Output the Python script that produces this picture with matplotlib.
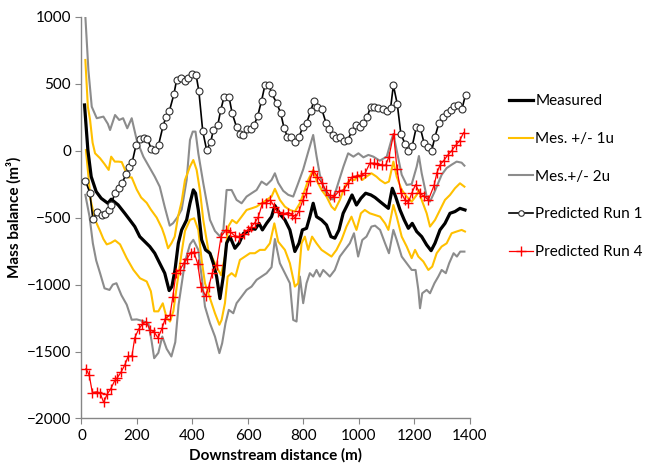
import matplotlib
matplotlib.use("Agg")
import matplotlib.pyplot as plt
from matplotlib.lines import Line2D

plt.rcParams['font.family'] = ['Lato', 'DejaVu Sans']

# ---- data ----
meas_x = [11, 23, 35, 53, 71, 95, 107, 132, 156, 174, 192, 210, 228, 246, 264, 282, 300, 316, 326, 337,
          349, 361, 379, 391, 403, 411, 421, 433, 447, 463, 475, 487, 499, 511, 523, 535, 553, 568, 584, 599,
          614, 626, 640, 652, 667, 685, 697, 715, 733, 751, 769, 784, 796, 811, 823, 835, 847, 865, 883, 899,
          913, 928, 943, 961, 975, 991, 1007, 1024, 1043, 1058, 1076, 1091, 1106, 1120, 1132, 1148, 1163, 1178,
          1192, 1208, 1226, 1244, 1260, 1274, 1292, 1310, 1328, 1346, 1364, 1382]
meas_y = [341, 5, -194, -306, -356, -393, -363, -405, -468, -517, -567, -642, -679, -716, -766, -841, -915,
          -1045, -1015, -891, -691, -592, -517, -393, -293, -318, -443, -666, -741, -766, -841, -940, -1105,
          -940, -691, -642, -729, -691, -617, -604, -580, -587, -543, -592, -543, -493, -410, -473, -517, -592,
          -753, -691, -592, -580, -493, -393, -493, -517, -555, -642, -654, -592, -468, -393, -331, -406, -356,
          -318, -331, -350, -381, -406, -431, -281, -343, -443, -517, -580, -543, -604, -642, -704, -747, -691,
          -592, -543, -468, -455, -431, -443]

up1_x = [14, 23, 31, 40, 49, 67, 83, 98, 107, 120, 133, 145, 157, 168, 181, 199, 215, 235, 250, 271, 290,
         300, 312, 324, 336, 348, 361, 373, 391, 403, 415, 427, 439, 457, 475, 493, 503, 517, 529, 543, 559,
         577, 595, 613, 631, 649, 667, 685, 697, 715, 733, 751, 769, 787, 805, 817, 835, 847, 865, 883, 901,
         913, 931, 949, 967, 985, 997, 1012, 1027, 1045, 1063, 1076, 1094, 1108, 1124, 1136, 1154, 1172, 1190,
         1208, 1216, 1226, 1244, 1256, 1274, 1292, 1310, 1328, 1346, 1364, 1380]
up1_y = [677, 328, 229, 60, -20, -57, -100, -144, -45, -82, -82, -85, -144, -200, -200, -290, -350, -390,
         -440, -500, -580, -640, -729, -692, -642, -493, -380, -219, -119, -70, -144, -300, -520, -741, -816,
         -891, -930, -791, -567, -518, -542, -493, -443, -431, -418, -393, -368, -343, -285, -368, -418, -443,
         -455, -393, -293, -219, -144, -219, -293, -343, -418, -443, -368, -269, -219, -219, -182, -219, -194,
         -169, -194, -219, -244, -231, -82, -194, -293, -343, -381, -331, -293, -368, -468, -567, -518, -443,
         -368, -331, -281, -244, -269]

lo1_x = [16, 24, 33, 49, 67, 79, 91, 105, 121, 139, 163, 187, 211, 235, 250, 262, 277, 293, 307, 319, 331,
         345, 361, 373, 391, 406, 421, 433, 445, 457, 469, 481, 497, 505, 517, 527, 541, 555, 571, 589, 607,
         625, 643, 661, 679, 695, 709, 733, 751, 769, 781, 793, 805, 817, 831, 847, 865, 883, 901, 919, 937,
         955, 973, 991, 1007, 1021, 1039, 1057, 1076, 1094, 1106, 1118, 1124, 1136, 1154, 1172, 1190, 1202,
         1214, 1232, 1250, 1264, 1280, 1298, 1316, 1334, 1352, 1370, 1382]
lo1_y = [5, -169, -368, -517, -600, -660, -700, -690, -670, -700, -803, -890, -953, -977, -1050, -1200,
         -1200, -1140, -1250, -1276, -1200, -990, -760, -600, -517, -505, -592, -816, -990, -1065, -1139,
         -1214, -1300, -1264, -1139, -940, -915, -940, -816, -791, -766, -766, -741, -741, -692, -543, -680,
         -741, -841, -1015, -990, -692, -642, -741, -642, -692, -741, -766, -791, -741, -667, -567, -493, -592,
         -468, -443, -468, -480, -493, -543, -592, -468, -406, -493, -642, -716, -803, -741, -791, -828, -891,
         -866, -766, -716, -692, -617, -604, -592, -604]

up2_x = [14, 25, 37, 55, 79, 95, 103, 121, 136, 150, 165, 181, 199, 223, 264, 282, 300, 318, 330, 345, 361,
         379, 391, 401, 411, 421, 439, 463, 481, 499, 511, 523, 541, 559, 577, 595, 613, 631, 649, 667, 685,
         697, 709, 727, 745, 763, 781, 799, 817, 835, 847, 859, 877, 895, 907, 925, 944, 961, 980, 998, 1016,
         1034, 1052, 1075, 1100, 1117, 1124, 1138, 1154, 1172, 1190, 1208, 1216, 1226, 1244, 1256, 1274, 1298,
         1316, 1334, 1352, 1370, 1380]
up2_y = [1000, 600, 328, 242, 254, 200, 154, 266, 229, 242, 167, 242, 80, -45, -194, -269, -420, -560, -542,
         -500, -440, -219, 80, 142, 142, -20, -244, -517, -600, -640, -600, -294, -294, -368, -393, -343, -318,
         -294, -231, -256, -219, -169, -240, -300, -330, -343, -243, -140, -10, 117, -40, -180, -300, -356,
         -365, -244, -119, -20, -45, -20, -50, -32, -45, -75, -45, 80, 125, -20, -180, -256, -250, -120, -40,
         -169, -343, -380, -300, -180, -130, -105, -82, -90, -112]

lo2_x = [14, 29, 41, 53, 67, 83, 101, 113, 126, 144, 163, 181, 199, 217, 241, 252, 262, 277, 291, 307, 324,
         338, 350, 373, 391, 403, 421, 433, 445, 463, 481, 497, 507, 519, 531, 547, 559, 577, 595, 613, 631,
         649, 667, 685, 697, 715, 733, 751, 763, 775, 787, 799, 811, 823, 835, 847, 859, 871, 883, 895, 913,
         931, 949, 967, 982, 997, 1012, 1027, 1045, 1058, 1076, 1094, 1108, 1124, 1136, 1154, 1172, 1190,
         1204, 1214, 1220, 1228, 1244, 1256, 1272, 1286, 1298, 1313, 1325, 1341, 1353, 1365, 1380]
lo2_y = [-330, -493, -692, -820, -915, -1028, -1040, -1000, -990, -1080, -1150, -1263, -1260, -1270, -1288,
         -1413, -1550, -1510, -1388, -1480, -1537, -1430, -1150, -830, -700, -666, -741, -940, -1164, -1289,
         -1388, -1512, -1438, -1289, -1189, -1214, -1139, -1090, -1040, -1015, -965, -940, -915, -870, -660,
         -841, -915, -990, -1264, -1276, -940, -1139, -990, -915, -940, -891, -940, -891, -915, -940, -891,
         -791, -741, -692, -617, -791, -667, -642, -567, -560, -592, -692, -766, -592, -667, -791, -841, -891,
         -891, -1040, -1177, -1065, -1040, -1065, -990, -940, -891, -915, -841, -766, -791, -754, -754]

run1_x = [14, 30, 41, 57, 74, 83, 98, 107, 120, 134, 147, 161, 171, 183, 197, 210, 224, 237, 251, 266, 278,
          294, 305, 317, 333, 343, 357, 373, 385, 398, 413, 423, 437, 451, 466, 475, 491, 502, 514, 532, 543,
          559, 571, 583, 597, 611, 622, 635, 649, 661, 676, 685, 703, 718, 730, 742, 755, 769, 784, 797, 811,
          826, 838, 850, 866, 881, 893, 905, 917, 932, 946, 960, 975, 989, 1004, 1016, 1030, 1042, 1055, 1070,
          1085, 1100, 1114, 1124, 1138, 1151, 1166, 1178, 1192, 1207, 1221, 1235, 1247, 1262, 1274, 1288,
          1302, 1316, 1330, 1343, 1358, 1371, 1384]
run1_y = [-224, -313, -512, -457, -477, -472, -443, -403, -318, -278, -239, -174, -124, -84, 45, 85, 95, 90,
          15, 5, 45, 184, 254, 298, 420, 530, 540, 520, 540, 575, 565, 445, 145, 5, 65, 154, 190, 304, 403,
          398, 279, 175, 125, 119, 160, 160, 190, 259, 373, 488, 488, 428, 358, 279, 169, 104, 100, 65, 100,
          175, 205, 294, 373, 324, 309, 209, 164, 119, 95, 104, 70, 80, 149, 190, 175, 209, 254, 328, 328,
          319, 309, 294, 319, 488, 348, 125, 50, -5, 35, 179, 169, 55, 30, 0, 104, 204, 249, 279, 304, 333,
          339, 309, 418]

run4_x = [16, 28, 39, 55, 67, 80, 93, 105, 120, 129, 143, 156, 168, 182, 192, 206, 219, 233, 247, 261, 276,
          290, 302, 319, 329, 341, 355, 369, 379, 393, 405, 419, 431, 447, 459, 471, 487, 503, 521, 536, 553,
          569, 584, 599, 611, 625, 637, 652, 666, 680, 695, 707, 727, 745, 757, 769, 784, 798, 810, 822, 836,
          850, 866, 880, 894, 911, 928, 945, 961, 976, 993, 1007, 1022, 1039, 1053, 1065, 1084, 1096, 1108,
          1125, 1137, 1151, 1166, 1178, 1190, 1204, 1219, 1233, 1250, 1271, 1281, 1293, 1305, 1320, 1334,
          1349, 1363, 1377]
run4_y = [-1629, -1676, -1806, -1801, -1810, -1880, -1816, -1781, -1716, -1696, -1652, -1601, -1537, -1532,
          -1398, -1333, -1298, -1278, -1338, -1353, -1398, -1328, -1254, -1228, -1094, -910, -890, -840, -810,
          -766, -756, -846, -1019, -1084, -1015, -915, -855, -642, -592, -607, -637, -642, -622, -592, -572,
          -537, -497, -393, -388, -368, -418, -457, -472, -462, -477, -502, -452, -368, -318, -224, -149, -194,
          -243, -293, -333, -343, -303, -293, -243, -194, -189, -184, -169, -94, -94, -99, -109, -109, -45,
          125, -139, -313, -368, -388, -318, -254, -318, -338, -368, -258, -164, -104, -75, -34, 0, 40, 75, 134]

x_ticks = [0, 200, 400, 600, 800, 1000, 1200, 1400]
y_ticks = [-2000, -1500, -1000, -500, 0, 500, 1000]

labels = ["Measured", "Mes. +/- 1u", "Mes.+/- 2u", "Predicted Run 1", "Predicted Run 4"]

C_GRAY = "#8c8c8c"
C_ORANGE = "#ffc000"
C_BLACK = "#000000"
C_RED = "#ff0000"

fig = plt.figure(figsize=(6.55, 4.68), dpi=100)
ax = fig.add_axes([0.1244, 0.1058, 0.5931, 0.8585])

ax.plot(up2_x, up2_y, color=C_GRAY, lw=1.5, zorder=2)
ax.plot(lo2_x, lo2_y, color=C_GRAY, lw=1.5, zorder=2)
ax.plot(up1_x, up1_y, color=C_ORANGE, lw=1.5, zorder=3)
ax.plot(lo1_x, lo1_y, color=C_ORANGE, lw=1.5, zorder=3)
ax.plot(meas_x, meas_y, color=C_BLACK, lw=2.3, zorder=4)
ax.plot(run4_x, run4_y, color=C_RED, lw=0.9, marker='+', ms=7, mew=1.0, zorder=5)
ax.plot(run1_x, run1_y, color=C_BLACK, lw=1.2, marker='o', ms=5, mfc='white', mec='#303030', mew=0.8, zorder=6)

ax.set_xlim(0, 1400)
ax.set_ylim(-2000, 1000)
ax.set_xticks(x_ticks)
ax.set_yticks(y_ticks)
for s in ['top', 'right']:
    ax.spines[s].set_visible(False)
for s in ['left', 'bottom']:
    ax.spines[s].set_color('#868686')
    ax.spines[s].set_linewidth(1.0)
ax.tick_params(axis='both', direction='out', length=4, color='#868686', labelsize=11, labelcolor='#000000')
ax.set_xlabel("Downstream distance (m)", fontsize=11, fontweight='bold', labelpad=4)
ax.set_ylabel("Mass balance (m³)", fontsize=11, fontweight='bold', labelpad=4)

handles = [
    Line2D([], [], color=C_BLACK, lw=2.3),
    Line2D([], [], color=C_ORANGE, lw=1.5),
    Line2D([], [], color=C_GRAY, lw=1.5),
    Line2D([], [], color=C_BLACK, lw=1.2, marker='o', ms=4, mfc='white', mec='#303030', mew=0.8),
    Line2D([], [], color=C_RED, lw=0.9, marker='+', ms=7, mew=1.0),
]
fig.legend(handles, labels, loc='upper left', bbox_to_anchor=(0.765, 0.815), frameon=False,
           fontsize=11, handlelength=1.6, handletextpad=0.15, labelspacing=1.55, borderpad=0)

fig.savefig("out.png", dpi=100)
